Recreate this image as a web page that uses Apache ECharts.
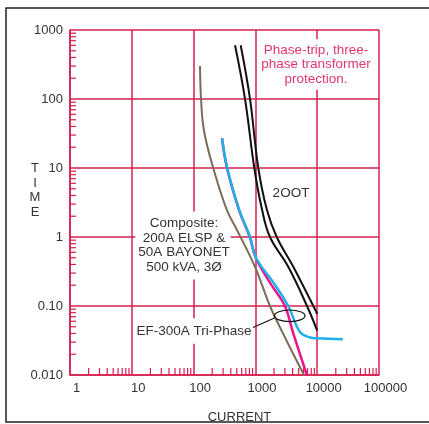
<!DOCTYPE html>
<html>
<head>
<meta charset="utf-8">
<script src="https://cdn.jsdelivr.net/npm/echarts@6/dist/echarts.min.js"></script>
<style>
html,body{margin:0;padding:0;background:#fff}
#chart{width:429px;height:424px}
</style>
</head>
<body>
<div id="chart"></div>
<script>
// tick labels, one per decade
const currentLabels = ['1', '10', '100', '1000', '10000', '100000'];
const timeLabels = ['0.010', '0.10', '1', '10', '100', '1000'];
const minorSteps = [2, 3, 4, 5, 6, 7, 8, 9];

// curves: [current (A), time (s)]
const fuse200TMelt = [[468, 600], [679, 100], [960, 10], [1280, 2.5], [1720, 1], [3400, 0.37], [6840, 0.1], [10000, 0.044]];
const fuse200TClear = [[578, 600], [818, 100], [1114, 10], [1530, 2.5], [2213, 1], [4104, 0.37], [8650, 0.1], [10000, 0.077]];
const composite = [[127, 300], [132, 100], [147, 35], [208, 10], [343, 2.5], [504, 1.26], [985, 0.37], [1720, 0.1], [2800, 0.04], [6100, 0.01]];
const efPink = [[288, 27], [347, 10], [543, 2.46], [810, 1], [1015, 0.5], [1830, 0.2], [3000, 0.1], [4100, 0.04], [6800, 0.01]];
const efBlue = [[290, 27], [350, 10], [549, 2.46], [818, 1], [1020, 0.5], [1950, 0.22], [3400, 0.1], [5270, 0.042], [7650, 0.035], [10000, 0.034], [26000, 0.033]];

const gridColor = '#d5204f';
const font = '"Liberation Sans", Arial, sans-serif';

// minor log ticks 2..9 in every decade
let xMinor = [], yMinor = [];
for (let d = 0; d < 5; d++) minorSteps.forEach(k => xMinor.push(k * Math.pow(10, d)));
for (let d = -2; d < 3; d++) minorSteps.forEach(k => yMinor.push(k * Math.pow(10, d)));

let chart = echarts.init(document.getElementById('chart'));

function curve(data, color, width) {
    return {
        type: 'line',
        data: data,
        showSymbol: false,
        smooth: 0.4,
        silent: true,
        lineStyle: {color: color, width: width},
        z: 3
    };
}

let option = {
    animation: false,
    backgroundColor: '#fff',
    grid: {left: 70, top: 30, right: 50, bottom: 49, outerBoundsMode: 'none'},
    xAxis: {
        type: 'log', logBase: 10, min: 1, max: 100000,
        axisLine: {show: true, lineStyle: {color: gridColor, width: 1.5}},
        axisTick: {show: false},
        splitLine: {show: true, lineStyle: {color: gridColor, width: 1.5}},
        axisLabel: {
            color: '#333', fontSize: 13, fontFamily: font, margin: 7, padding: [0, 0, 0, 13],
            formatter: v => currentLabels[Math.round(Math.log10(v))]
        }
    },
    yAxis: {
        type: 'log', logBase: 10, min: 0.01, max: 1000,
        axisLine: {show: true, lineStyle: {color: gridColor, width: 1.5}},
        axisTick: {show: false},
        splitLine: {show: true, lineStyle: {color: gridColor, width: 1.5}},
        axisLabel: {
            color: '#333', fontSize: 13, fontFamily: font, margin: 7, padding: [0, 0, 9, 0],
            formatter: v => timeLabels[Math.round(Math.log10(v)) + 2]
        }
    },
    graphic: [
        {type: 'rect', z: 0, shape: {x: 6, y: 8, width: 440, height: 414},
            style: {fill: 'none', stroke: '#222', lineWidth: 1.5}},
        {type: 'text', z: 1, style: {text: 'Phase-trip, three-\nphase transformer\nprotection.',
            x: 316, y: 64.5, align: 'center', verticalAlign: 'middle', lineHeight: 14.5,
            font: '13.5px ' + font, fill: '#e0386c', backgroundColor: '#fff', padding: [6, 2, 1, 2]}},
        {type: 'text', z: 1, style: {text: 'Composite:\n200A ELSP &\n50A BAYONET\n500 kVA, 3Ø',
            x: 183, y: 245.5, align: 'center', verticalAlign: 'middle', lineHeight: 14.5,
            font: '13.5px ' + font, fill: '#333', backgroundColor: '#fff', padding: [6, 1, 4, 3]}},
        {type: 'text', z: 1, style: {text: 'EF-300A Tri-Phase',
            x: 194, y: 331, align: 'center', verticalAlign: 'middle', lineHeight: 14.5,
            font: '13.5px ' + font, fill: '#333', backgroundColor: '#fff', padding: [6, 2, 5, 2]}},
        {type: 'text', z: 1, style: {text: '2OOT', x: 291, y: 193, align: 'center', verticalAlign: 'middle',
            font: '13.5px ' + font, fill: '#333'}},
        {type: 'text', z: 1, style: {text: 'T\nI\nM\nE', x: 35, y: 190.5, align: 'center', verticalAlign: 'middle',
            lineHeight: 14.8, font: '13px ' + font, fill: '#333'}},
        {type: 'text', z: 1, style: {text: 'CURRENT', x: 239.5, y: 417, align: 'center', verticalAlign: 'middle',
            font: '13px ' + font, fill: '#333'}},
        {type: 'ellipse', z: 5, shape: {cx: 289.7, cy: 315.8, rx: 15.3, ry: 5.8},
            style: {fill: 'none', stroke: '#111', lineWidth: 1.2}},
        {type: 'line', z: 5, shape: {x1: 253, y1: 327.5, x2: 274.5, y2: 318},
            style: {stroke: '#111', lineWidth: 1.2}}
    ],
    series: [
        {
            type: 'custom', silent: true, z: 2,
            data: xMinor.map(v => [v, 0.01]),
            renderItem: function (params, api) {
                let p = api.coord([api.value(0), api.value(1)]);
                return {type: 'line', shape: {x1: p[0], y1: p[1], x2: p[0], y2: p[1] - 7},
                    style: {stroke: gridColor, lineWidth: 1.2}};
            }
        },
        {
            type: 'custom', silent: true, z: 2,
            data: yMinor.map(v => [1, v]),
            renderItem: function (params, api) {
                let p = api.coord([api.value(0), api.value(1)]);
                return {type: 'line', shape: {x1: p[0], y1: p[1], x2: p[0] + 6, y2: p[1]},
                    style: {stroke: gridColor, lineWidth: 1.2}};
            }
        },
        curve(composite, '#7d6b5a', 2),
        curve(efPink, '#ec148a', 2.5),
        curve(efBlue, '#1eb0e8', 2.5),
        curve(fuse200TMelt, '#111', 2),
        curve(fuse200TClear, '#111', 2)
    ]
};
chart.setOption(option);
</script>
</body>
</html>
